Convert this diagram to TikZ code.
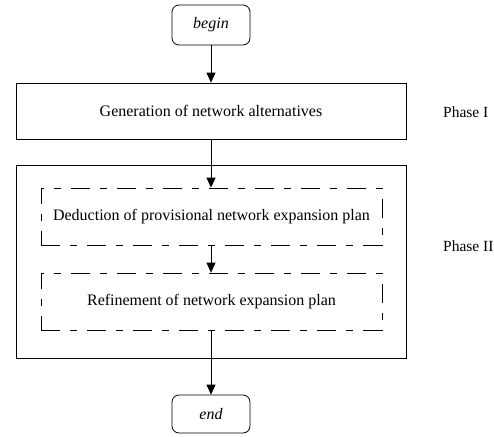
\documentclass[tikz,border=0pt]{standalone}
\usepackage{fontspec}
\setmainfont{Liberation Serif}
\usetikzlibrary{arrows.meta}
\begin{document}
\begin{tikzpicture}[x=1pt,y=-1pt,
  every node/.style={font=\fontsize{16}{19}\selectfont, inner sep=0pt},
  terminal/.style={draw, line width=0.8pt, rounded corners=7pt, minimum width=78pt, font=\fontsize{16}{19}\selectfont\itshape},
  solidbox/.style={draw, line width=0.8pt, minimum width=390pt},
  stagebox/.style={draw, line width=0.8pt, dash pattern=on 19pt off 10pt on 7pt off 10pt, minimum width=341pt, minimum height=57pt},
  flow/.style={line width=0.8pt, -{Triangle[length=10pt,width=9pt]}},
  phaselabel/.style={anchor=base west, font=\fontsize{15.5}{18}\selectfont}]
  \useasboundingbox (0,0) rectangle (494,436);

  % outer frame of phase II
  \node[solidbox, minimum height=193pt] (outer) at (211,261.5) {};

  \node[terminal, minimum height=40pt] (begin) at (211,25) {begin};
  \node[solidbox, minimum height=56pt] (gen) at (211,111) {Generation of network alternatives};
  \node[stagebox] (deduct) at (211.5,216.5) {Deduction of provisional network expansion plan};
  \node[stagebox] (refine) at (211.5,301.5) {Refinement of network expansion plan};
  \node[terminal, minimum height=38pt] (end) at (211,414) {end};

  \node[phaselabel] (p1) at (443,117) {Phase I};
  \node[phaselabel] (p2) at (443,251) {Phase II};

  \draw[flow] (begin.south) -- (gen.north);
  \draw[flow] (gen.south) -- (gen.south |- deduct.north);
  \draw[flow] (gen.south |- deduct.south) -- (gen.south |- refine.north);
  \draw[flow] (gen.south |- refine.south) -- (end.north);
\end{tikzpicture}
\end{document}
